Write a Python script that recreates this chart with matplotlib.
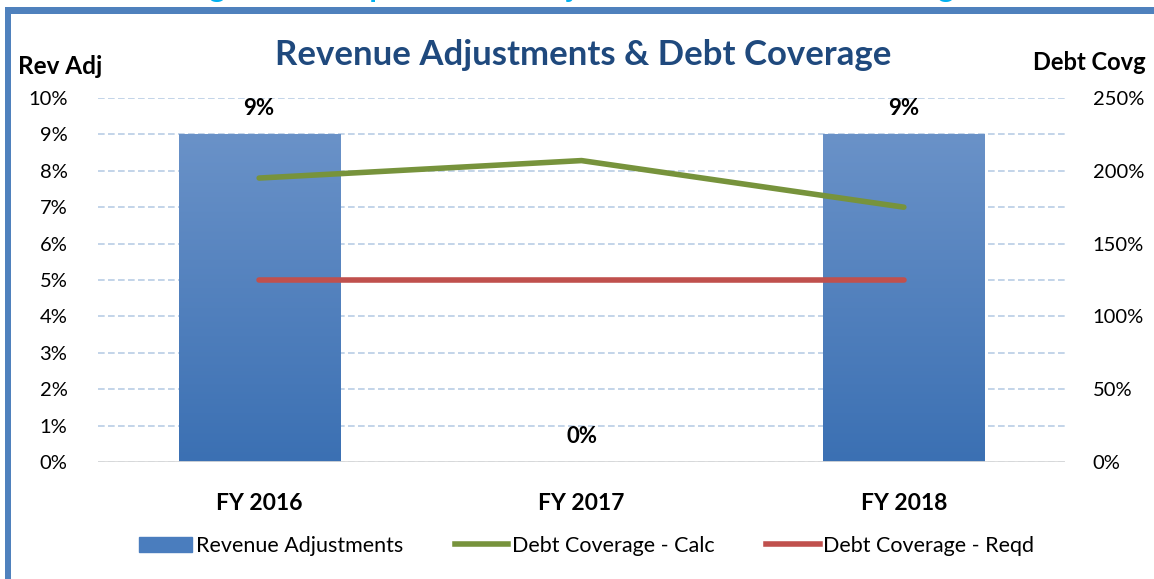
import numpy as np
import matplotlib
matplotlib.use("Agg")
import matplotlib.pyplot as plt
from matplotlib.patches import Rectangle
from matplotlib.lines import Line2D
from matplotlib.ticker import FuncFormatter

plt.rcParams["font.family"] = ["Lato", "DejaVu Sans"]

categories = ["FY 2016", "FY 2017", "FY 2018"]
rev_adj = [9, 0, 9]                 # % (left axis)
debt_cov_calc = [195, 207, 175]     # % (right axis)
debt_cov_reqd = [125, 125, 125]     # % (right axis)

BAR_TOP = "#6A92C8"
BAR_BOT = "#3B70B3"
GREEN = "#77933C"
RED = "#C0504D"
GRID = "#B9CDE5"
NAVY = "#1F497D"

fig = plt.figure(figsize=(11.54, 5.79), dpi=100)
ax = fig.add_axes([0.0849, 0.2021, 0.838, 0.6287])
ax2 = ax.twinx()

x = np.arange(len(categories))

# bars with vertical gradient
grad = np.linspace(0, 1, 256).reshape(-1, 1)
cmap = matplotlib.colors.LinearSegmentedColormap.from_list("bar", [BAR_BOT, BAR_TOP])
bars = ax.bar(x, rev_adj, width=0.5, color="none", edgecolor="none", zorder=2)
for b in bars:
    if b.get_height() <= 0:
        continue
    im = ax.imshow(grad, cmap=cmap, origin="lower", aspect="auto",
                   extent=[b.get_x(), b.get_x() + b.get_width(), 0, b.get_height()],
                   zorder=2)
    im.set_clip_path(b)
ax.set_xlim(-0.5, 2.5)
ax.set_ylim(0, 10)
ax2.set_ylim(0, 250)

for xi, v in zip(x, rev_adj):
    ax.annotate(f"{v}%", (xi, v), xytext=(0, 11), textcoords="offset points",
                ha="center", va="bottom", fontsize=16, fontweight="bold")

# grid
ax.set_yticks(np.arange(0, 11, 1))
ax.yaxis.set_major_formatter(FuncFormatter(lambda v, p: f"{int(v)}%"))
ax.grid(axis="y", color=GRID, linestyle=(0, (4, 2)), linewidth=1.2, zorder=0)
ax.set_axisbelow(True)
ax.axhline(0, color="#D9D9D9", linewidth=2, zorder=3)

ax2.plot(x, debt_cov_calc, color=GREEN, linewidth=4, solid_capstyle="round", zorder=4)
ax2.plot(x, debt_cov_reqd, color=RED, linewidth=4, solid_capstyle="round", zorder=4)
ax2.set_yticks(np.arange(0, 251, 50))
ax2.yaxis.set_major_formatter(FuncFormatter(lambda v, p: f"{int(v)}%"))

ax.set_xticks(x)
ax.set_xticklabels(categories, fontsize=16.5, fontweight="bold")
for a in (ax, ax2):
    for s in a.spines.values():
        s.set_visible(False)
    a.tick_params(length=0)
ax.tick_params(axis="y", labelsize=14.5, pad=22)
ax.tick_params(axis="x", pad=22)
ax2.tick_params(axis="y", labelsize=14.5, pad=20)

fig.text(0.505, 0.905, "Revenue Adjustments & Debt Coverage", ha="center",
         va="center", fontsize=25, fontweight="bold", color=NAVY)
fig.text(0.016, 0.885, "Rev Adj", ha="left", va="center", fontsize=17.5,
         fontweight="bold")
fig.text(0.993, 0.892, "Debt Covg", ha="right", va="center", fontsize=17,
         fontweight="bold")

# clipped caption and frame from the source document
fig.text(0.5, 1.005, "Figure 9 - Proposed Rate Adjustments and Debt Coverage",
         ha="center", va="baseline", fontsize=22, fontweight="bold", color="#00B0F0")
fig.add_artist(Rectangle((0.0043, 0), 0.0052, 0.988, transform=fig.transFigure,
                         color="#4F81BD", lw=0))
fig.add_artist(Rectangle((0.0043, 0.976), 0.996, 0.012, transform=fig.transFigure,
                         color="#4F81BD", lw=0))

handles = [
    Rectangle((0, 0), 1, 1, color="#4A7DBE"),
    Line2D([0], [0], color=GREEN, linewidth=4),
    Line2D([0], [0], color=RED, linewidth=4),
]
labels = ["Revenue Adjustments", "Debt Coverage - Calc", "Debt Coverage - Reqd"]
fig.legend(handles, labels, loc="center", bbox_to_anchor=(0.508, 0.057), ncol=3,
           frameon=False, fontsize=15.5, handlelength=2.5, handletextpad=0.15,
           columnspacing=2.4)

fig.savefig("out.png", dpi=100)
